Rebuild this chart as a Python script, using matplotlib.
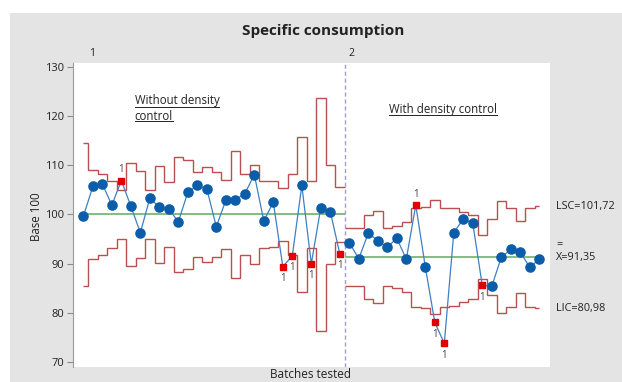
import numpy as np
import matplotlib
matplotlib.use("Agg")
import matplotlib.pyplot as plt
from matplotlib.patches import Rectangle
from matplotlib.lines import Line2D

# ---------------- data ----------------
title = "Specific consumption"
ylabel = "Base 100"
xlabel = "Batches tested"
stage_names = ["1", "2"]
stage_notes = ["Without density\ncontrol", "With density control"]

values1 = [99.6, 105.7, 106.2, 101.9, 106.9, 101.7, 96.3, 103.3, 101.5, 101.1,
           98.5, 104.5, 105.9, 105.2, 97.5, 102.9, 103.0, 104.2, 108.1, 98.7,
           102.5, 89.4, 91.6, 105.9, 90.0, 101.4, 100.6, 92.0]
values2 = [94.3, 91.0, 96.2, 94.7, 93.3, 95.2, 90.9, 101.9, 89.4, 78.1,
           73.8, 96.3, 99.1, 98.2, 85.6, 85.4, 91.3, 92.9, 92.3, 89.3, 90.9]

ucl1 = [114.6, 109.1, 108.3, 106.8, 105.0, 110.4, 108.9, 104.9, 109.8, 106.6,
        111.7, 111.0, 108.6, 109.7, 108.7, 107.1, 112.9, 108.3, 110.1, 106.8,
        106.7, 105.3, 108.3, 115.8, 106.8, 123.7, 110.0, 105.5]
lcl1 = [85.5, 90.9, 91.7, 93.2, 95.0, 89.6, 91.1, 95.1, 90.2, 93.4,
        88.3, 89.0, 91.4, 90.3, 91.3, 92.9, 87.1, 91.7, 89.9, 93.2,
        93.3, 94.7, 91.7, 84.2, 93.2, 76.3, 90.0, 94.5]
ucl2 = [97.2, 97.2, 99.9, 100.7, 97.2, 97.7, 98.4, 101.4, 101.6, 102.9,
        101.4, 101.3, 100.5, 99.9, 95.8, 99.0, 102.7, 101.4, 98.6, 101.4, 101.72]
lcl2 = [85.5, 85.5, 82.8, 82.0, 85.5, 85.0, 84.3, 81.3, 81.1, 79.8,
        81.3, 81.4, 82.2, 82.8, 86.9, 83.7, 80.0, 81.3, 84.1, 81.3, 80.98]
cl1 = 100.0
cl2 = 91.35

# out-of-control points (1-based batch numbers) and label side
flagged = [5, 22, 23, 25, 28, 36, 38, 39, 43]
flag_above = [5, 36]

yticks = [70, 80, 90, 100, 110, 120, 130]

# ---------------- styles ----------------
BG = "#E4E4E4"
BLUE_PT = "#0B5DAA"
BLUE_LN = "#3D80C3"
RED = "#E00000"
LIM = "#B85050"
CLC = "#63A863"
DIV = "#A79BD6"
TXT = "#222222"
FONT = ["Open Sans", "DejaVu Sans"]
plt.rcParams["font.family"] = FONT

W, H = 622, 382
fig = plt.figure(figsize=(W / 100, H / 100), dpi=100, facecolor="white")
fig.patches.append(Rectangle((10 / W, 0), 1 - 10 / W, 1 - 13 / H,
                             transform=fig.transFigure, facecolor=BG,
                             edgecolor="none", zorder=-10))

ax = fig.add_axes([72.7 / W, 1 - 366.7 / H, (550 - 72.7) / W, (366.7 - 62.7) / H])
ax.set_facecolor("white")

n1, n2 = len(values1), len(values2)
x1 = np.arange(1, n1 + 1)
x2 = np.arange(n1 + 1, n1 + n2 + 1)
xmin, xmax = 1, n1 + n2
boundary = n1 + 0.5

def edges(x, lo, hi):
    e = np.r_[x - 0.5, x[-1] + 0.5]
    return np.clip(e, lo, hi)

# limits
ax.stairs(ucl1, edges(x1, xmin, boundary), baseline=None, color=LIM, lw=1.0, zorder=2)
ax.stairs(lcl1, edges(x1, xmin, boundary), baseline=None, color=LIM, lw=1.0, zorder=2)
ax.stairs(ucl2, edges(x2, boundary, xmax), baseline=None, color=LIM, lw=1.0, zorder=2)
ax.stairs(lcl2, edges(x2, boundary, xmax), baseline=None, color=LIM, lw=1.0, zorder=2)

# center lines
ax.hlines(cl1, xmin, boundary, color=CLC, lw=1.1, zorder=2)
ax.hlines(cl2, boundary, xmax, color=CLC, lw=1.1, zorder=2)

# stage divider
ax.axvline(boundary, color=DIV, lw=1.0, ls=(0, (3, 2)), zorder=1)

# data
for xs, vs in ((x1, values1), (x2, values2)):
    ax.plot(xs, vs, color=BLUE_LN, lw=0.9, zorder=3)
allx = np.r_[x1, x2]
allv = np.r_[values1, values2]
ok = ~np.isin(allx, flagged)
ax.plot(allx[ok], allv[ok], ls="none", marker="o", ms=6.6, color=BLUE_PT,
        mec=BLUE_PT, zorder=4)
bad = np.isin(allx, flagged)
ax.plot(allx[bad], allv[bad], ls="none", marker="s", ms=4.6, color=RED,
        mec=RED, zorder=5)
for xb in flagged:
    v = allv[xb - 1]
    if xb in flag_above:
        ax.annotate("1", (xb, v), xytext=(0, 4), textcoords="offset points",
                    ha="center", va="bottom", fontsize=7, color="#444444")
    else:
        ax.annotate("1", (xb, v), xytext=(0, -4.5), textcoords="offset points",
                    ha="center", va="top", fontsize=7, color="#444444")

ax.set_xlim(-0.12, 50.13)
ax.set_ylim(69.08, 130.83)
ax.set_yticks(yticks)
ax.set_xticks([])
ax.tick_params(axis="y", length=4, width=0.8, color="#8A8A8A", labelsize=8,
               labelcolor=TXT, pad=2)
for s in ("top", "right", "bottom"):
    ax.spines[s].set_visible(False)
ax.spines["left"].set_color("#9A9A9A")
ax.spines["left"].set_linewidth(0.8)

# stage labels on top
ax.annotate(stage_names[0], (xmin + 0.9, 1), xycoords=("data", "axes fraction"),
            xytext=(0, 3), textcoords="offset points", ha="center", va="bottom",
            fontsize=7.5, color=TXT)
ax.annotate(stage_names[1], (x2[0] + 0.2, 1), xycoords=("data", "axes fraction"),
            xytext=(0, 3), textcoords="offset points", ha="center", va="bottom",
            fontsize=7.5, color=TXT)

# stage notes (underlined)
t1 = ax.text(6.4, 121.5, stage_notes[0], ha="left", va="center", fontsize=8.3,
             color=TXT, linespacing=1.25)
t2 = ax.text(33.2, 121.3, stage_notes[1], ha="left", va="center", fontsize=8.3,
             color=TXT)

# right labels
def fmt(v):
    return f"{v:.2f}".replace(".", ",")
rx = 556 / W
def ytofig(v):
    return ax.transData.transform((0, v))[1] / H
fig.text(rx, ytofig(ucl2[-1]), f"LSC={fmt(ucl2[-1])}", ha="left", va="center",
         fontsize=7.8, color=TXT)
fig.text(rx, ytofig(cl2) + 12 / H, "=", ha="left", va="center", fontsize=7.8, color=TXT)
fig.text(rx, ytofig(cl2), f"X={fmt(cl2)}", ha="left", va="center",
         fontsize=7.8, color=TXT)
fig.text(rx, ytofig(lcl2[-1]), f"LIC={fmt(lcl2[-1])}", ha="left", va="center",
         fontsize=7.8, color=TXT)

fig.text(323 / W, 1 - 31 / H, title, ha="center", va="center", fontsize=11,
         fontweight="bold", color=TXT)
fig.text(36 / W, 1 - 217 / H, ylabel, ha="center", va="center", rotation=90,
         fontsize=8.3, color=TXT)
fig.text(311 / W, 1 / H, xlabel, ha="center", va="bottom", fontsize=8.5,
         color=TXT)

# underlines for the notes
fig.canvas.draw()
r = fig.canvas.get_renderer()
for t in (t1, t2):
    lines = t.get_text().split("\n")
    bb = t.get_window_extent(r)
    nl = len(lines)
    lh = bb.height / nl
    for i, ln in enumerate(lines):
        tmp = fig.text(0, 0, ln, fontsize=t.get_fontsize(), family=FONT)
        wln = tmp.get_window_extent(r).width
        tmp.remove()
        ybase = bb.y1 - lh * (i + 1) + lh * 0.12
        fig.add_artist(Line2D([bb.x0 / W, (bb.x0 + wln) / W], [ybase / H, ybase / H],
                              transform=fig.transFigure, color=TXT, lw=0.7))

fig.savefig("out.png", dpi=100, facecolor="white")
